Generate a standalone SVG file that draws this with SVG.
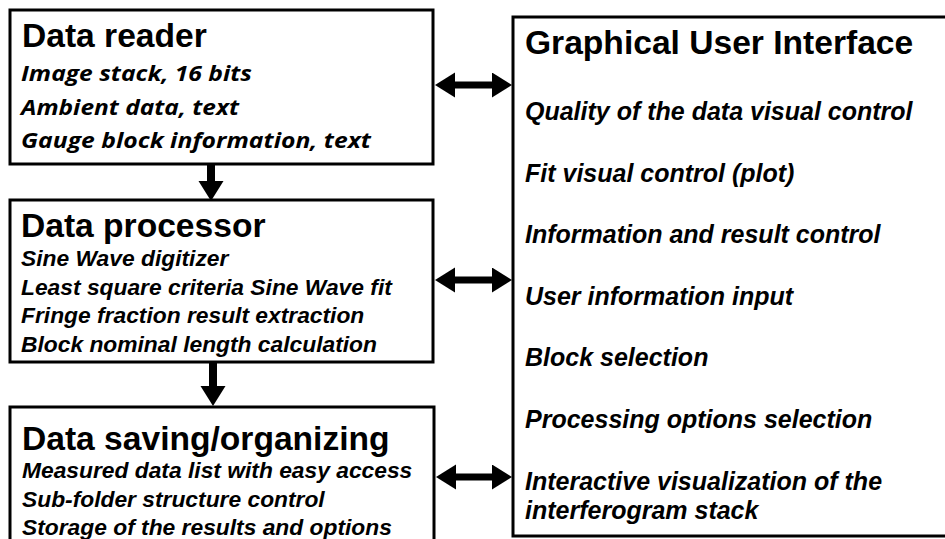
<svg xmlns="http://www.w3.org/2000/svg" width="945" height="539" viewBox="0 0 945 539">
<style>
.box{fill:#fff;stroke:#000;stroke-width:3}
.title{font-family:"Liberation Sans",Arial,sans-serif;font-weight:bold;font-size:33.6px;fill:#000}
.item{font-family:"Liberation Sans",Arial,sans-serif;font-weight:bold;font-style:italic;font-size:22.8px;fill:#000}
.gui{font-family:"Liberation Sans",Arial,sans-serif;font-weight:bold;font-style:italic;font-size:25px;fill:#000}
.cal{font-family:"Open Sans",Lato,sans-serif;font-weight:bold;font-style:italic;font-size:22px;fill:#000}
.conn{stroke:#000;fill:none}
</style>
<defs>
<marker id="head" markerUnits="userSpaceOnUse" markerWidth="21" markerHeight="26" refX="0" refY="12.5" orient="auto-start-reverse" viewBox="0 0 21 26">
<path d="M0,0 L20,12.5 L0,25 z" fill="#000"/>
</marker>
</defs>
<g id="data-reader">
<rect class="box" x="10" y="10" width="423" height="154"/>
<text class="title" x="22" y="47">Data reader</text>
<text class="cal" x="21" y="81" textLength="231" lengthAdjust="spacingAndGlyphs">Image stack, 16 bits</text>
<text class="cal" x="21" y="115" textLength="218" lengthAdjust="spacingAndGlyphs">Ambient data, text</text>
<text class="cal" x="21" y="148" textLength="350" lengthAdjust="spacingAndGlyphs">Gauge block information, text</text>
</g>
<g id="data-processor">
<rect class="box" x="10" y="200" width="423" height="162"/>
<text class="title" x="21" y="237">Data processor</text>
<text class="item" x="21" y="266">Sine Wave digitizer</text>
<text class="item" x="21" y="295">Least square criteria Sine Wave fit</text>
<text class="item" x="21" y="323">Fringe fraction result extraction</text>
<text class="item" x="21" y="352">Block nominal length calculation</text>
</g>
<g id="data-saving">
<rect class="box" x="10" y="407" width="424" height="150"/>
<text class="title" x="22" y="450">Data saving/organizing</text>
<text class="item" x="22" y="478">Measured data list with easy access</text>
<text class="item" x="22" y="507">Sub-folder structure control</text>
<text class="item" x="22" y="535">Storage of the results and options</text>
</g>
<g id="gui">
<rect class="box" x="513" y="17" width="445" height="519"/>
<text class="title" x="525" y="54">Graphical User Interface</text>
<text class="gui" x="525" y="120">Quality of the data visual control</text>
<text class="gui" x="525" y="182">Fit visual control (plot)</text>
<text class="gui" x="525" y="243">Information and result control</text>
<text class="gui" x="525" y="305">User information input</text>
<text class="gui" x="525" y="366">Block selection</text>
<text class="gui" x="525" y="428">Processing options selection</text>
<text class="gui" x="525" y="490">Interactive visualization of the</text>
<text class="gui" x="525" y="519">interferogram stack</text>
</g>
<g id="connectors">
<line class="conn" x1="211" y1="165" x2="211" y2="181" stroke-width="8" marker-end="url(#head)"/>
<line class="conn" x1="213" y1="363" x2="213" y2="386" stroke-width="8" marker-end="url(#head)"/>
<line class="conn" x1="455" y1="85" x2="492" y2="85" stroke-width="7" marker-start="url(#head)" marker-end="url(#head)"/>
<line class="conn" x1="455" y1="280" x2="492" y2="280" stroke-width="7" marker-start="url(#head)" marker-end="url(#head)"/>
<line class="conn" x1="456" y1="477" x2="492" y2="477" stroke-width="7" marker-start="url(#head)" marker-end="url(#head)"/>
</g>
</svg>
